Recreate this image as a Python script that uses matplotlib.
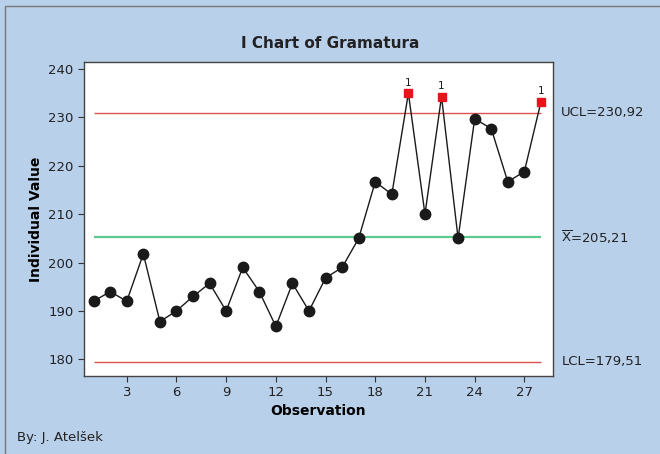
import matplotlib
matplotlib.use("Agg")
import matplotlib.pyplot as plt
from matplotlib.patches import Rectangle
import numpy as np

# Individual measurements of Gramatura
observations = list(range(1, 29))
values = [192, 194, 192, 201.8, 187.8, 190, 193, 195.7, 190, 199,
          194, 186.8, 195.7, 190, 196.8, 199, 205, 216.7, 214.1, 235,
          210, 234.3, 205, 229.7, 227.7, 216.7, 218.8, 233.2]
ucl = 230.92
center = 205.21
lcl = 179.51
x_ticks = [3, 6, 9, 12, 15, 18, 21, 24, 27]
y_ticks = [180, 190, 200, 210, 220, 230, 240]

bg = "#b9d0eb"
fig = plt.figure(figsize=(6.6, 4.54), dpi=100, facecolor=bg)
ax = fig.add_axes([0.1273, 0.1718, 0.7106, 0.6916])
ax.set_facecolor("white")

x = np.array(observations)
y = np.array(values)

# control limits and centre line
ax.hlines([ucl, lcl], x[0], x[-1], color="#d9534f", lw=1.0, zorder=2)
ax.hlines(center, x[0], x[-1], color="#5cc98e", lw=1.6, zorder=2)

# data line
ax.plot(x, y, color="#1a1a1a", lw=1.0, zorder=3)

out = y > ucl
ax.plot(x[~out], y[~out], "o", color="#1a1a1a", ms=7.5, zorder=4)
ax.plot(x[out], y[out], "s", color="#e8141c", ms=6, zorder=4)
for xi, yi in zip(x[out], y[out]):
    ax.annotate("1", (xi, yi), xytext=(0, 4), textcoords="offset points",
                ha="center", va="bottom", fontsize=7.5, color="#1a1a1a")

ax.set_xlim(0.42, 28.73)
ax.set_ylim(176.55, 241.45)
ax.set_xticks(x_ticks)
ax.set_yticks(y_ticks)
ax.tick_params(labelsize=9.5, length=4, color="#333333", labelcolor="#222222")
for s in ax.spines.values():
    s.set_color("#444444")
    s.set_linewidth(1.0)

ax.set_xlabel("Observation", fontsize=10, fontweight="bold", labelpad=3)
ax.set_ylabel("Individual Value", fontsize=10, fontweight="bold", labelpad=4)
fig.text(0.5, 0.905, "I Chart of Gramatura", ha="center", va="center",
         fontsize=11, fontweight="bold", color="#222222")

# limit labels on the right
lab_kw = dict(xycoords=("axes fraction", "data"), xytext=(6, 0),
              textcoords="offset points", va="center", fontsize=9.5,
              color="#222222")
ax.annotate("UCL=230,92", (1, ucl), **lab_kw)
ax.annotate(r"$\overline{\mathrm{X}}$=205,21", (1, center), **lab_kw)
ax.annotate("LCL=179,51", (1, lcl), **lab_kw)

fig.text(0.026, 0.028, "By: J. Atelšek", fontsize=9.5, color="#222222")

# thin frame along the top and left of the figure
fig.add_artist(Rectangle((0.007, -0.1), 1.1, 1.087, transform=fig.transFigure,
                         fill=False, edgecolor="#777777", lw=1.0))

fig.savefig("out.png", dpi=100, facecolor=bg)
